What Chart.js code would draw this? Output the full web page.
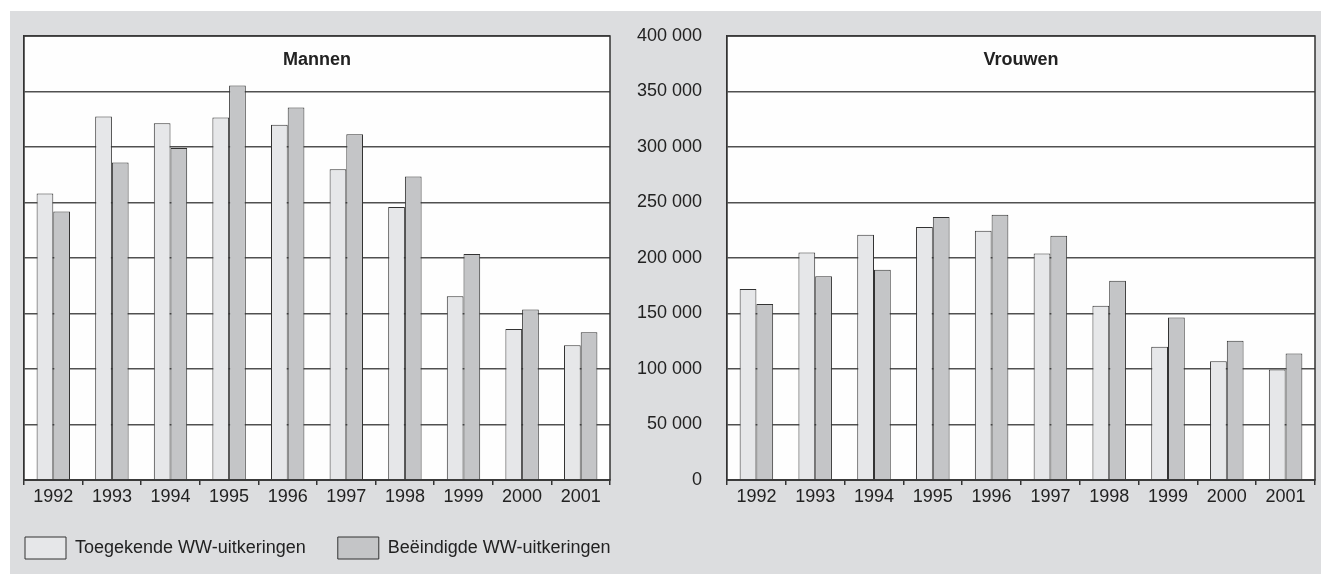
<!DOCTYPE html>
<html lang="nl">
<head>
    <meta charset="UTF-8">
    <title>WW-uitkeringen 1992-2001</title>
    <script src="https://cdn.jsdelivr.net/npm/chart.js"></script>
    <style>
        body { margin: 0; width: 1321px; height: 574px; overflow: hidden; background: #fff; position: relative; }
        #panel { position: absolute; left: 10px; top: 11px; width: 1311px; height: 563px; background: #dcdddf; }
        .plotbg { position: absolute; top: 36px; height: 444px; background: #fefefe; }
        #bgMannen { left: 24px; width: 586px; }
        #bgVrouwen { left: 727px; width: 588px; }
        canvas { position: absolute; top: 11px; background: transparent; }
        #mannen { left: -7px; }
        #vrouwen { left: 620px; }
    </style>
</head>
<body>
<div id="panel"></div>
<div class="plotbg" id="bgMannen"></div>
<div class="plotbg" id="bgVrouwen"></div>
<canvas id="mannen" width="720" height="563"></canvas>
<canvas id="vrouwen" width="701" height="563"></canvas>

<script>
    const years = ['1992', '1993', '1994', '1995', '1996', '1997', '1998', '1999', '2000', '2001'];
    const seriesNames = ['Toegekende WW-uitkeringen', 'Beëindigde WW-uitkeringen'];

    // Mannen
    const mannenToegekend = [258000, 327500, 321500, 326500, 320000, 280000, 246000, 165500, 136000, 121500];
    const mannenBeeindigd = [242000, 286000, 299000, 355500, 335500, 311500, 273500, 203500, 153500, 133000];

    // Vrouwen
    const vrouwenToegekend = [172000, 205000, 221000, 228000, 224500, 204000, 157000, 120000, 107000, 99500];
    const vrouwenBeeindigd = [158500, 183500, 189500, 237000, 239000, 220000, 179500, 146500, 125500, 114000];

    const lightFill = '#e6e7e9';
    const darkFill = '#c4c5c7';
    const plotFill = '#fefefe';
    const edge = '#333';
    const textColor = '#222';
    const font18 = { family: '"Liberation Sans", Arial, sans-serif', size: 18 };

    function spaced(v) {
        return String(v).replace(/\B(?=(\d{3})+(?!\d))/g, ' ');
    }

    // light plot area painted last, then grid and bars drawn again by the library on top
    function panelPlugin(title) {
        return {
            id: 'panelBox',
            afterDraw(chart) {
                const { ctx, chartArea: a } = chart;
                const w = a.right - a.left;
                const h = a.bottom - a.top;
                ctx.save();
                ctx.globalAlpha = 1;
                ctx.globalCompositeOperation = 'source-over';
                ctx.fillStyle = plotFill;
                ctx.fillRect(a.left, a.top, w, h);
                ctx.restore();

                chart.scales.y.drawGrid(a);
                const metas = chart.getSortedVisibleDatasetMetas();
                for (let i = metas.length - 1; i >= 0; --i) {
                    metas[i].controller.draw();
                }

                ctx.save();
                ctx.strokeStyle = edge;
                ctx.lineWidth = 1.5;
                ctx.strokeRect(a.left, a.top, w, h);
                ctx.fillStyle = textColor;
                ctx.font = 'bold 18px "Liberation Sans", Arial, sans-serif';
                ctx.textAlign = 'center';
                ctx.textBaseline = 'middle';
                ctx.fillText(title, (a.left + a.right) / 2, a.top + 24);
                ctx.restore();
            }
        };
    }

    function makeChart(id, title, toegekend, beeindigd, opts) {
        const ctx = document.getElementById(id).getContext('2d');
        const scales = {
            x: {
                afterFit(scale) { scale.height = 25; },
                grid: { drawOnChartArea: false, color: edge, tickLength: 5, lineWidth: 1.5 },
                border: { color: edge, width: 1.5 },
                ticks: { color: textColor, padding: 1, maxRotation: 0, font: font18 }
            },
            y: {
                min: 0,
                max: 400000,
                afterFit(scale) {
                    scale.width = opts.yWidth;
                    scale.paddingTop = 0;
                    scale.paddingBottom = 0;
                },
                grid: { color: '#505050', lineWidth: 1.4, drawTicks: false },
                border: { color: edge, width: 1.5 },
                ticks: {
                    display: opts.yLabels,
                    stepSize: 50000,
                    padding: 25,
                    color: textColor,
                    font: font18,
                    callback: v => spaced(v)
                }
            }
        };
        if (opts.rightGap) {
            // empty space right of the plot, so the legend can run wider than it
            scales.gap = {
                type: 'linear',
                position: 'right',
                grid: { display: false },
                border: { display: false },
                ticks: { display: false },
                afterFit(scale) { scale.width = opts.rightGap; }
            };
        }
        return new Chart(ctx, {
            type: 'bar',
            data: {
                labels: years,
                datasets: [{
                    label: seriesNames[0],
                    data: toegekend,
                    backgroundColor: lightFill,
                    borderColor: edge,
                    borderWidth: 1
                }, {
                    label: seriesNames[1],
                    data: beeindigd,
                    backgroundColor: darkFill,
                    borderColor: edge,
                    borderWidth: 1
                }]
            },
            options: {
                responsive: false,
                animation: false,
                categoryPercentage: 0.57,
                barPercentage: 1.0,
                layout: { padding: opts.padding },
                plugins: {
                    legend: {
                        display: opts.legend,
                        position: 'bottom',
                        align: 'start',
                        labels: {
                            boxWidth: 41,
                            boxHeight: 22,
                            padding: 32,
                            color: textColor,
                            font: font18
                        }
                    },
                    tooltip: { enabled: false }
                },
                scales: scales
            },
            plugins: [panelPlugin(title)]
        });
    }

    makeChart('mannen', 'Mannen', mannenToegekend, mannenBeeindigd, {
        padding: { left: 0, right: 10, top: 25, bottom: 5 },
        legend: true,
        yLabels: false,
        yWidth: 31,
        rightGap: 93
    });

    makeChart('vrouwen', 'Vrouwen', vrouwenToegekend, vrouwenBeeindigd, {
        padding: { left: 0, right: 6, top: 25, bottom: 69 },
        legend: false,
        yLabels: true,
        yWidth: 107
    });
</script>
</body>
</html>
